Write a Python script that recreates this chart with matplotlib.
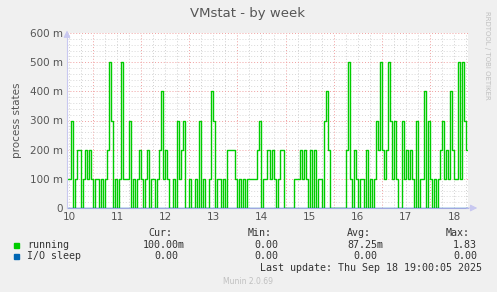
import numpy as np
import matplotlib.pyplot as plt

# running processes, one value per hour (in tenths of a process)
running = [1, 1, 3, 0, 1, 2, 2, 0, 1, 2, 1, 2, 1, 0, 1, 1, 0, 1, 0, 1,
           2, 5, 3, 0, 1, 0, 1, 5, 1, 1, 1, 3, 0, 1, 0, 1, 2, 1, 0, 1,
           2, 0, 1, 1, 0, 1, 2, 4, 1, 2, 1, 0, 0, 1, 0, 3, 1, 2, 3, 0,
           0, 1, 0, 0, 1, 0, 3, 0, 1, 0, 0, 1, 4, 3, 0, 1, 1, 0, 1, 0,
           2, 2, 2, 2, 1, 0, 1, 0, 1, 0, 1, 1, 1, 1, 1, 2, 3, 0, 1, 1,
           2, 1, 2, 1, 0, 1, 2, 2, 0, 0, 0, 0, 0, 1, 1, 1, 2, 1, 2, 1,
           0, 2, 0, 2, 0, 1, 1, 0, 3, 4, 2, 0, 0, 0, 0, 0, 0, 0, 0, 2,
           5, 1, 0, 2, 1, 0, 1, 1, 0, 2, 0, 1, 0, 1, 3, 2, 5, 2, 1, 2,
           5, 3, 1, 3, 1, 0, 0, 3, 1, 2, 1, 2, 1, 0, 3, 0, 1, 1, 4, 0,
           3, 1, 0, 1, 0, 1, 2, 3, 1, 2, 1, 4, 2, 1, 1, 5, 1, 5, 3, 2]
running = np.array(running) / 10.0
io_sleep = np.zeros(len(running))

day_labels = ['10', '11', '12', '13', '14', '15', '16', '17', '18']
ytick_labels = ['0', '100 m', '200 m', '300 m', '400 m', '500 m', '600 m']

# time axis in days, last update Thu Sep 18 19:00
t_end = 18 + 19 / 24.0
t_start = t_end - len(running) / 24.0
t = t_start + np.arange(len(running) + 1) / 24.0

fig = plt.figure(figsize=(4.97, 2.92), dpi=100)
fig.patch.set_facecolor('#F0F0F0')
ax = fig.add_axes([67 / 497, 84 / 292, 401 / 497, 175 / 292])
ax.set_facecolor('white')

# grid, rrdtool style
for d in np.arange(11, 19):
    ax.axvline(d, color='#F0A0A0', lw=0.7, ls=(0, (1, 2)), zorder=1)
for h in np.arange(t_start, t_end, 0.25):
    hh = np.ceil(t_start * 4) / 4
for h in np.arange(np.ceil(t_start * 4) / 4, t_end, 0.25):
    if abs(h - round(h)) > 1e-6:
        ax.axvline(h, color='#D0D0D0', lw=0.7, ls=(0, (1, 2)), zorder=1)
for v in np.arange(0.02, 0.61, 0.02):
    if abs(v * 10 - round(v * 10)) < 1e-6:
        ax.axhline(v, color='#F0A0A0', lw=0.7, ls=(0, (1, 2)), zorder=1)
    else:
        ax.axhline(v, color='#D8D8D8', lw=0.7, ls=(0, (1, 2)), zorder=1)

ax.step(t, np.append(running, running[-1]), where='post', color='#00CC00', lw=1.0, zorder=3)
ax.step(t, np.append(io_sleep, io_sleep[-1]), where='post', color='#0066B3', lw=1.0, zorder=4)

ax.set_xlim(t_start, t_end)
ax.set_ylim(0, 0.6)
ax.set_xticks(np.arange(10, 19) + 0.5)
ax.set_xticklabels(day_labels)
ax.set_yticks(np.arange(0, 0.61, 0.1))
ax.set_yticklabels(ytick_labels)
ax.tick_params(axis='both', length=0, labelsize=7.5, colors='#555555', pad=3)
for s in ['top', 'right']:
    ax.spines[s].set_visible(False)
ax.spines['left'].set_color('#C8C8F0')
ax.spines['bottom'].set_color('#A0A8E0')
ax.spines['left'].set_zorder(5)

# axis arrows
ax.annotate('', xy=(0, 1.03), xytext=(0, 0.98), xycoords='axes fraction',
            arrowprops=dict(arrowstyle='-|>', color='#C8C8F0', lw=0.8), annotation_clip=False)
ax.annotate('', xy=(1.03, 0), xytext=(0.99, 0), xycoords='axes fraction',
            arrowprops=dict(arrowstyle='-|>', color='#C8C8F0', lw=0.8), annotation_clip=False)

ax.set_ylabel('process states', fontsize=7.5, color='#555555', labelpad=6)
fig.text(248 / 497, 1 - 13 / 292, 'VMstat - by week', ha='center', va='center',
         fontsize=9.5, color='#555555')
fig.text(487 / 497, 1 - 55 / 292, 'RRDTOOL / TOBI OETIKER', rotation=270, ha='center',
         va='center', fontsize=5, color='#C0C0C0')

# legend block
mono = 'DejaVu Sans Mono'
fs = 7.2
def ftext(x, y, s, ha='left', color='#333333'):
    fig.text(x / 497, 1 - y / 292, s, ha=ha, va='center', fontsize=fs,
             family=mono, color=color)

ftext(172, 233, 'Cur:', 'right')
ftext(272, 233, 'Min:', 'right')
ftext(371, 233, 'Avg:', 'right')
ftext(470, 233, 'Max:', 'right')
fig.patches.append(plt.Rectangle((14 / 497, 1 - 248 / 292), 5 / 497, 5 / 292,
                                 transform=fig.transFigure, color='#00CC00'))
fig.patches.append(plt.Rectangle((14 / 497, 1 - 259 / 292), 5 / 497, 5 / 292,
                                 transform=fig.transFigure, color='#0066B3'))
ftext(27, 245, 'running')
ftext(185, 245, '100.00m', 'right')
ftext(278, 245, '0.00', 'right')
ftext(383, 245, '87.25m', 'right')
ftext(477, 245, '1.83', 'right')
ftext(27, 256, 'I/O sleep')
ftext(178, 256, '0.00', 'right')
ftext(278, 256, '0.00', 'right')
ftext(377, 256, '0.00', 'right')
ftext(477, 256, '0.00', 'right')
ftext(482, 268, 'Last update: Thu Sep 18 19:00:05 2025', 'right')
fig.text(248 / 497, 1 - 282 / 292, 'Munin 2.0.69', ha='center', va='center',
         fontsize=5.5, color='#C0C0C0')

fig.savefig('out.png', dpi=100, facecolor=fig.get_facecolor())
